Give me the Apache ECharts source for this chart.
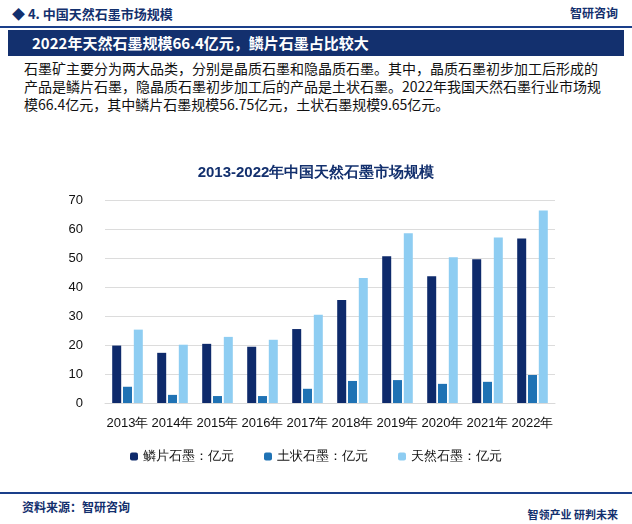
<!DOCTYPE html>
<html><head><meta charset="utf-8">
<script src="https://cdn.jsdelivr.net/npm/echarts@6/dist/echarts.min.js"></script>
<style>
body{margin:0;width:632px;height:524px;background:#fff;font-family:"Noto Sans CJK SC",sans-serif;position:relative;overflow:hidden}
.top{position:absolute;left:0;top:0;width:632px;height:26px;border-bottom:2px solid #1a3f8a}
.top .t{position:absolute;left:12px;top:4px;font-size:13px;font-weight:bold;color:#13306e}
.top .logo{position:absolute;right:14px;top:4px;font-size:12px;font-weight:bold;color:#13306e}
.ban{position:absolute;left:8px;top:30px;width:616px;height:26px;background:#13306e;color:#fff;font-size:15px;font-weight:bold;line-height:26px;text-indent:24px}
.txt{position:absolute;left:24px;top:59px;width:584px;font-size:14px;line-height:18px;color:#111}
#chart{position:absolute;left:0;top:150px;width:632px;height:330px}
.foot{position:absolute;left:0;top:492px;width:632px;border-top:2px solid #1a3f8a}
.foot .s{position:absolute;left:22px;top:4px;font-size:12px;font-weight:bold;color:#13306e}
.foot .r{position:absolute;right:14px;top:12px;font-size:11px;font-weight:bold;color:#13306e}
</style></head><body>
<div class="top"><span class="t">◆ 4. 中国天然石墨市场规模</span><span class="logo">智研咨询</span></div>
<div class="ban">2022年天然石墨规模66.4亿元，鳞片石墨占比较大</div>
<div class="txt">石墨矿主要分为两大品类，分别是晶质石墨和隐晶质石墨。其中，晶质石墨初步加工后形成的产品是鳞片石墨，隐晶质石墨初步加工后的产品是土状石墨。2022年我国天然石墨行业市场规模66.4亿元，其中鳞片石墨规模56.75亿元，土状石墨规模9.65亿元。</div>
<div id="chart"></div>
<div class="foot"><span class="s">资料来源：智研咨询</span><span class="r">智领产业 研判未来</span></div>
<script>
var years = ['2013年','2014年','2015年','2016年','2017年','2018年','2019年','2020年','2021年','2022年'];
var flake = [19.8,17.3,20.4,19.4,25.5,35.5,50.6,43.7,49.6,56.75];
var earthy = [5.6,2.8,2.4,2.4,4.9,7.6,7.9,6.6,7.3,9.65];
var natural = [25.3,20.1,22.8,21.8,30.4,43.1,58.5,50.3,57.1,66.4];
var names = ['鳞片石墨：亿元','土状石墨：亿元','天然石墨：亿元'];
var colors = ['#0e2a6b','#1f72b4','#8ecdf2'];

var chart = echarts.init(document.getElementById('chart'));
var vals = [flake, earthy, natural];
chart.setOption({
  color: colors,
  title:{text:'2013-2022年中国天然石墨市场规模',left:'center',top:10,
    textStyle:{fontSize:15,fontWeight:'bold',color:'#13306e'}},
  legend:{bottom:12,itemWidth:8,itemHeight:8,itemGap:30,
    textStyle:{fontSize:13,color:'#111'}},
  grid:{left:105,right:77,top:50,bottom:77},
  xAxis:{type:'category',data:years,axisTick:{show:false},
    axisLine:{lineStyle:{color:'#d9d9d9'}},
    axisLabel:{fontSize:13,color:'#111',interval:0,margin:14}},
  yAxis:{type:'value',min:0,max:70,interval:10,
    axisLabel:{fontSize:13,color:'#111',margin:22},
    splitLine:{lineStyle:{color:'#dcdcdc'}}},
  series: names.map(function(n,i){
    return {name:n,type:'bar',data:vals[i],barWidth:9,barGap:'20%'};
  })
});
</script>
</body></html>
